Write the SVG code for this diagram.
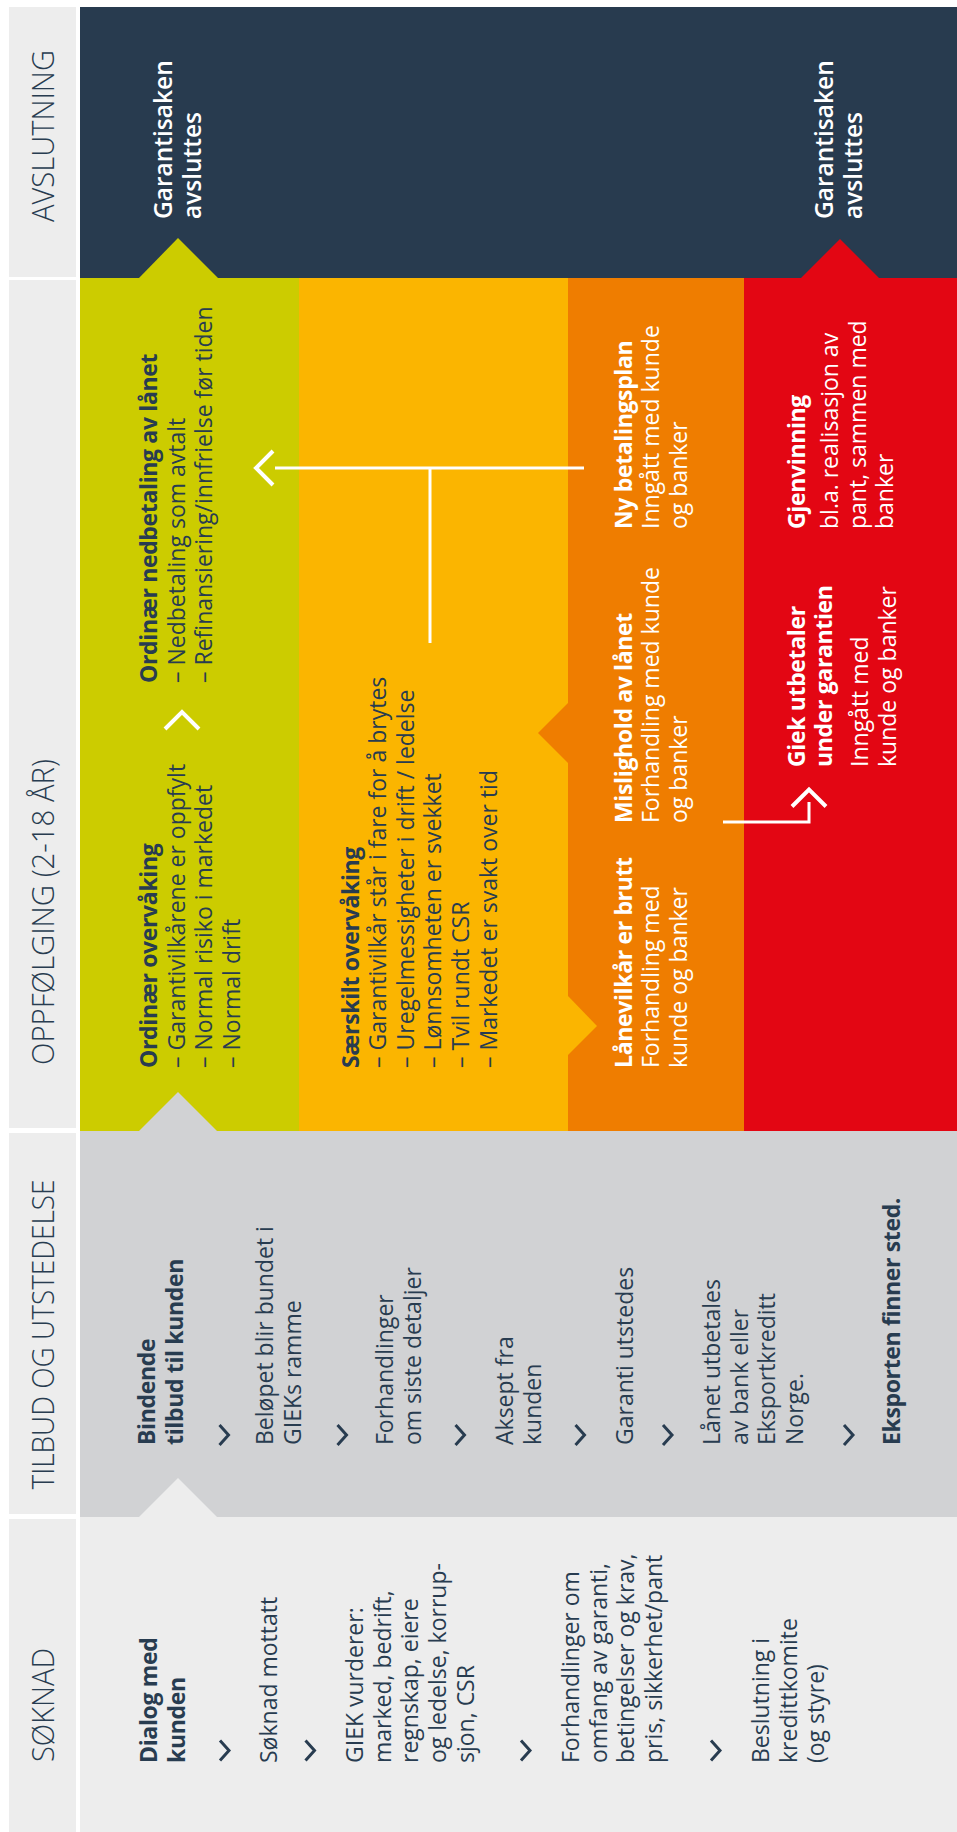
<svg xmlns="http://www.w3.org/2000/svg" width="957" height="1832" viewBox="0 0 957 1832">
<style>
text{font-family:"Open Sans","Liberation Sans",sans-serif;font-size:23px;fill:#283c50}
.h{font-size:32px;font-weight:300}
.b{font-weight:700;letter-spacing:-0.35px}
.w{fill:#fff}
.s{font-weight:600;font-size:24.5px}
.cv{fill:none;stroke:#283c50;stroke-width:3}
.wl{fill:none;stroke:#fff;stroke-width:3}
.wc{fill:none;stroke:#fff;stroke-width:4}
</style>
<defs>
<path id="chev" d="M-10,-4.5 L0,4.5 L10,-4.5"/>
<path id="wchev" d="M-8.5,-17 L8.5,0 L-8.5,17"/>
</defs>
<rect width="957" height="1832" fill="#fff"/>
<g transform="translate(0,1832) rotate(-90)">
<g id="headers">
<rect x="0" y="9" width="313" height="67" fill="#ededed"/>
<rect x="318" y="9" width="381" height="67" fill="#ededed"/>
<rect x="704" y="9" width="848" height="67" fill="#ededed"/>
<rect x="1555" y="9" width="270" height="67" fill="#ededed"/>
<text class="h" x="70" y="53.5" textLength="114" lengthAdjust="spacingAndGlyphs">SØKNAD</text>
<text class="h" x="342.5" y="53.5" textLength="310" lengthAdjust="spacingAndGlyphs">TILBUD OG UTSTEDELSE</text>
<text class="h" x="767" y="53.5" textLength="306" lengthAdjust="spacingAndGlyphs">OPPFØLGING (2-18 ÅR)</text>
<text class="h" x="1610" y="53.5" textLength="172" lengthAdjust="spacingAndGlyphs">AVSLUTNING</text>
</g>
<g id="backgrounds">
<rect x="0" y="80" width="315" height="877" fill="#ededed"/>
<rect x="315" y="80" width="386" height="877" fill="#d1d2d4"/>
<rect x="701" y="80" width="853" height="219" fill="#cccc00"/>
<rect x="701" y="299" width="853" height="269" fill="#fbb500"/>
<rect x="701" y="568" width="853" height="176" fill="#ef7d00"/>
<rect x="701" y="744" width="853" height="213" fill="#e30613"/>
<rect x="1554" y="80" width="271" height="877" fill="#283b4f"/>
<polygon points="315,139 354,178 315,217" fill="#ededed"/>
<polygon points="701,139 740,178 701,217" fill="#d1d2d4"/>
<polygon points="1554,139 1594,178 1554,218" fill="#cccc00"/>
<polygon points="1554,801 1593,840 1554,879" fill="#e30613"/>
<polygon points="1069,568 1099,538 1129,568" fill="#ef7d00"/>
<polygon points="777,568 806,597 836,568" fill="#fbb500"/>
</g>
<g id="connectors">
<use href="#chev" class="cv" x="81.5" y="224.5"/>
<use href="#chev" class="cv" x="81.5" y="310"/>
<use href="#chev" class="cv" x="81.5" y="525.5"/>
<use href="#chev" class="cv" x="81.5" y="715.5"/>
<use href="#chev" class="cv" x="397" y="224"/>
<use href="#chev" class="cv" x="397" y="342"/>
<use href="#chev" class="cv" x="397" y="460"/>
<use href="#chev" class="cv" x="397" y="580"/>
<use href="#chev" class="cv" x="397" y="667.5"/>
<use href="#chev" class="cv" x="397" y="848.5"/>
<use href="#wchev" class="wc" x="1111.5" y="182"/>
<path class="wl" d="M1364,584 V275"/>
<path class="wc" d="M1347,273 L1364,256 L1381,273"/>
<path class="wl" d="M1189,430 H1364"/>
<path class="wl" d="M1010,723 V809 H1030"/>
<use href="#wchev" class="wc" x="1034" y="809"/>
</g>
<g id="soknad-1"><text class="b"><tspan x="69" y="157">Dialog med</tspan><tspan x="69" y="185">kunden</tspan></text></g>
<g id="soknad-2"><text><tspan x="69" y="277">Søknad mottatt</tspan></text></g>
<g id="soknad-3"><text><tspan x="69" y="363">GIEK vurderer:</tspan><tspan x="69" y="391">marked, bedrift,</tspan><tspan x="69" y="418">regnskap, eiere</tspan><tspan x="69" y="446">og ledelse, korrup-</tspan><tspan x="69" y="474">sjon, CSR</tspan></text></g>
<g id="soknad-4"><text><tspan x="69" y="579">Forhandlinger om</tspan><tspan x="69" y="607">omfang av garanti,</tspan><tspan x="69" y="634">betingelser og krav,</tspan><tspan x="69" y="662">pris, sikkerhet/pant</tspan></text></g>
<g id="soknad-5"><text><tspan x="69" y="769">Beslutning i</tspan><tspan x="69" y="797">kredittkomite</tspan><tspan x="69" y="824">(og styre)</tspan></text></g>
<g id="tilbud-1"><text class="b"><tspan x="387" y="155">Bindende</tspan><tspan x="387" y="183">tilbud til kunden</tspan></text></g>
<g id="tilbud-2"><text><tspan x="387" y="273">Beløpet blir bundet i</tspan><tspan x="387" y="301">GIEKs ramme</tspan></text></g>
<g id="tilbud-3"><text><tspan x="387" y="393">Forhandlinger</tspan><tspan x="387" y="421">om siste detaljer</tspan></text></g>
<g id="tilbud-4"><text><tspan x="387" y="513">Aksept fra</tspan><tspan x="387" y="541">kunden</tspan></text></g>
<g id="tilbud-5"><text><tspan x="387" y="633">Garanti utstedes</tspan></text></g>
<g id="tilbud-6"><text><tspan x="387" y="720">Lånet utbetales</tspan><tspan x="387" y="748">av bank eller</tspan><tspan x="387" y="775">Eksportkreditt</tspan><tspan x="387" y="803">Norge.</tspan></text></g>
<g id="tilbud-7"><text class="b"><tspan x="387" y="900">Eksporten finner sted.</tspan></text></g>
<g id="ordinaer-overvaking"><text><tspan class="b" x="764" y="157">Ordinær overvåking</tspan><tspan x="764" y="185">– Garantivilkårene er oppfylt</tspan><tspan x="764" y="212">– Normal risiko i markedet</tspan><tspan x="764" y="240">– Normal drift</tspan></text></g>
<g id="ordinaer-nedbetaling"><text><tspan class="b" x="1149" y="157">Ordinær nedbetaling av lånet</tspan><tspan x="1149" y="185">– Nedbetaling som avtalt</tspan><tspan x="1149" y="212">– Refinansiering/innfrielse før tiden</tspan></text></g>
<g id="saerskilt"><text><tspan class="b" x="764" y="359">Særskilt overvåking</tspan><tspan x="764" y="386">– Garantivilkår står i fare for å brytes</tspan><tspan x="764" y="414">– Uregelmessigheter i drift / ledelse</tspan><tspan x="764" y="441">– Lønnsomheten er svekket</tspan><tspan x="764" y="469">– Tvil rundt CSR</tspan><tspan x="764" y="497">– Markedet er svakt over tid</tspan></text></g>
<g id="lanevilkar"><text class="w"><tspan class="b" x="764" y="632">Lånevilkår er brutt</tspan><tspan x="764" y="659">Forhandling med</tspan><tspan x="764" y="687">kunde og banker</tspan></text></g>
<g id="mislighold"><text class="w"><tspan class="b" x="1009" y="632">Mislighold av lånet</tspan><tspan x="1009" y="659">Forhandling med kunde</tspan><tspan x="1009" y="687">og banker</tspan></text></g>
<g id="ny-betalingsplan"><text class="w"><tspan class="b" x="1303" y="632">Ny betalingsplan</tspan><tspan x="1303" y="659">Inngått med kunde</tspan><tspan x="1303" y="687">og banker</tspan></text></g>
<g id="giek-utbetaler"><text class="w"><tspan class="b" x="1065" y="805">Giek utbetaler</tspan><tspan class="b" x="1065" y="832">under garantien</tspan><tspan x="1065" y="868">Inngått med</tspan><tspan x="1065" y="896">kunde og banker</tspan></text></g>
<g id="gjenvinning"><text class="w"><tspan class="b" x="1303" y="805">Gjenvinning</tspan><tspan x="1303" y="838">bl.a. realisasjon av</tspan><tspan x="1303" y="866">pant, sammen med</tspan><tspan x="1303" y="893">banker</tspan></text></g>
<g id="avsluttes-1"><text class="w s"><tspan x="1613" y="172">Garantisaken</tspan><tspan x="1613" y="201">avsluttes</tspan></text></g>
<g id="avsluttes-2"><text class="w s"><tspan x="1613" y="833">Garantisaken</tspan><tspan x="1613" y="862">avsluttes</tspan></text></g>
</g>
</svg>
